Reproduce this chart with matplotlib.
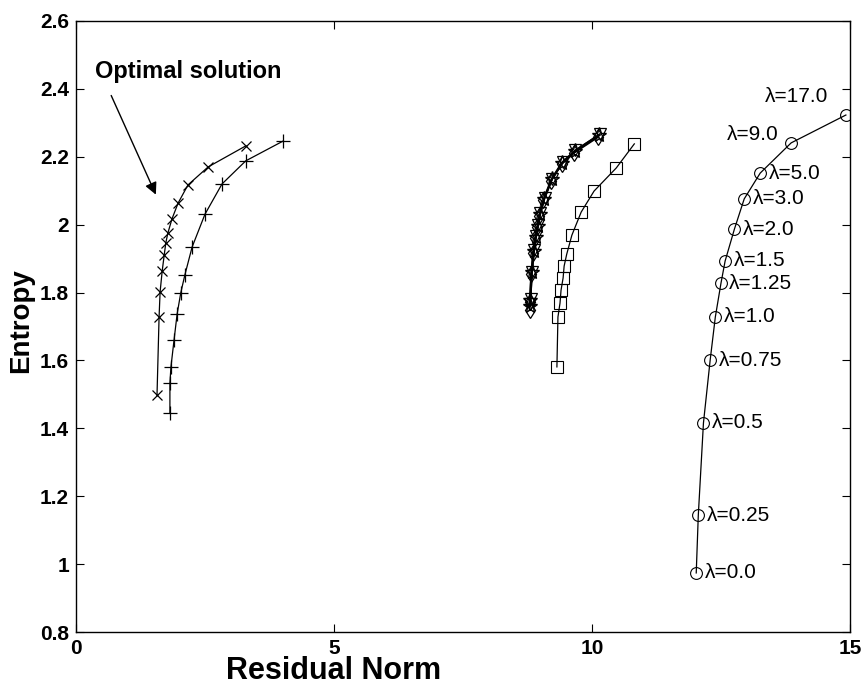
import matplotlib
matplotlib.use('Agg')
import matplotlib.pyplot as plt

plt.rcParams['font.family'] = ['Liberation Sans', 'DejaVu Sans']

# x-marker curve (optimal solution)
cross_x = [3.29, 2.56, 2.17, 1.98, 1.86, 1.78, 1.74, 1.71, 1.67, 1.63, 1.61, 1.57]
cross_y = [2.232, 2.170, 2.117, 2.064, 2.017, 1.975, 1.946, 1.911, 1.863, 1.802, 1.728, 1.498]

# plus-marker curve
plus_x = [4.01, 3.29, 2.83, 2.50, 2.25, 2.11, 2.03, 1.96, 1.90, 1.84, 1.82, 1.82]
plus_y = [2.246, 2.188, 2.120, 2.031, 1.934, 1.852, 1.799, 1.737, 1.660, 1.581, 1.533, 1.445]

# middle cluster: diamonds, triangles, stars
diam_x = [10.12, 9.66, 9.41, 9.21, 9.06, 8.98, 8.94, 8.90, 8.86, 8.82, 8.80, 8.79]
diam_y = [2.258, 2.212, 2.178, 2.130, 2.072, 2.027, 1.992, 1.960, 1.918, 1.855, 1.772, 1.748]
tri_x = [10.15, 9.68, 9.43, 9.23, 9.08, 9.00, 8.96, 8.92, 8.88, 8.84, 8.81, 8.80]
tri_y = [2.266, 2.219, 2.184, 2.136, 2.078, 2.033, 1.998, 1.966, 1.924, 1.862, 1.780, 1.765]
star_x = [10.14, 9.67, 9.42, 9.22, 9.07, 8.99, 8.95, 8.91, 8.87, 8.83, 8.80, 8.80]
star_y = [2.264, 2.217, 2.182, 2.134, 2.076, 2.031, 1.996, 1.964, 1.922, 1.860, 1.778, 1.760]

# square curve
sq_x = [10.82, 10.47, 10.04, 9.79, 9.61, 9.51, 9.46, 9.44, 9.40, 9.38, 9.34, 9.32]
sq_y = [2.238, 2.167, 2.099, 2.037, 1.969, 1.913, 1.878, 1.843, 1.807, 1.769, 1.728, 1.581]

# circle curve with lambda values
circ_x = [14.92, 13.86, 13.26, 12.95, 12.76, 12.58, 12.50, 12.39, 12.29, 12.16, 12.06, 12.02]
circ_y = [2.323, 2.241, 2.152, 2.076, 1.987, 1.893, 1.828, 1.728, 1.601, 1.416, 1.144, 0.974]
lambdas = ['17.0', '9.0', '5.0', '3.0', '2.0', '1.5', '1.25', '1.0', '0.75', '0.5', '0.25', '0.0']

fig = plt.figure(figsize=(8.63, 6.86), dpi=100)
ax = fig.add_axes([76 / 863, 1 - 632 / 686, (850 - 76) / 863, (632 - 21) / 686])

lw = 0.9
ms = 8.5
ax.plot(cross_x, cross_y, color='black', lw=lw, marker='x', ms=7, mew=0.9)
ax.plot(plus_x, plus_y, color='black', lw=lw, marker='+', ms=10, mew=0.9)
ax.plot(diam_x, diam_y, color='black', lw=1.2, marker='d', ms=8, mfc='none', mew=0.9)
ax.plot(tri_x, tri_y, color='black', lw=1.2, marker='v', ms=8.5, mfc='none', mew=0.9)
ax.plot(star_x, star_y, color='black', lw=1.8, marker='*', ms=11, mfc='none', mew=1.0)
ax.plot(sq_x, sq_y, color='black', lw=lw, marker='s', ms=ms, mfc='none', mew=0.8)
ax.plot(circ_x, circ_y, color='black', lw=lw, marker='o', ms=ms, mfc='none', mew=0.8)

# label offsets (points); first two sit up-left of their markers
offsets = {0: (-13, 13), 1: (-9, 6)}
for i, (x, y, lam) in enumerate(zip(circ_x, circ_y, lambdas)):
    if i in offsets:
        ax.annotate('λ=' + lam, (x, y), xytext=offsets[i], textcoords='offset points',
                    ha='right', va='center', fontsize=15)
    else:
        ax.annotate('λ=' + lam, (x, y), xytext=(6, 0), textcoords='offset points',
                    ha='left', va='center', fontsize=15)

ax.annotate('', xy=(1.57, 2.081), xytext=(0.66, 2.388),
            arrowprops=dict(arrowstyle='-|>', color='black', lw=1.0,
                            mutation_scale=18))
ax.text(0.37, 2.45, 'Optimal solution', fontsize=17, fontweight='bold',
        ha='left', va='center')

ax.set_xlim(0, 15)
ax.set_ylim(0.8, 2.6)
ax.set_xticks([0, 5, 10, 15])
ax.set_xticklabels(['0', '5', '10', '15'])
ax.set_yticks([0.8, 1.0, 1.2, 1.4, 1.6, 1.8, 2.0, 2.2, 2.4, 2.6])
ax.set_yticklabels(['0.8', '1', '1.2', '1.4', '1.6', '1.8', '2', '2.2', '2.4', '2.6'])
ax.tick_params(direction='in', length=6, width=0.8, top=True, right=True,
               labelsize=15, pad=5)
for lbl in ax.get_xticklabels() + ax.get_yticklabels():
    lbl.set_fontweight('bold')
for sp in ax.spines.values():
    sp.set_linewidth(1.0)

ax.set_xlabel('Residual Norm', fontsize=22, fontweight='bold')
ax.xaxis.set_label_coords(0.333, -0.04)
ax.set_ylabel('Entropy', fontsize=20, fontweight='bold')
ax.yaxis.set_label_coords(-0.054, 0.51)

fig.savefig('out.png', dpi=100)
